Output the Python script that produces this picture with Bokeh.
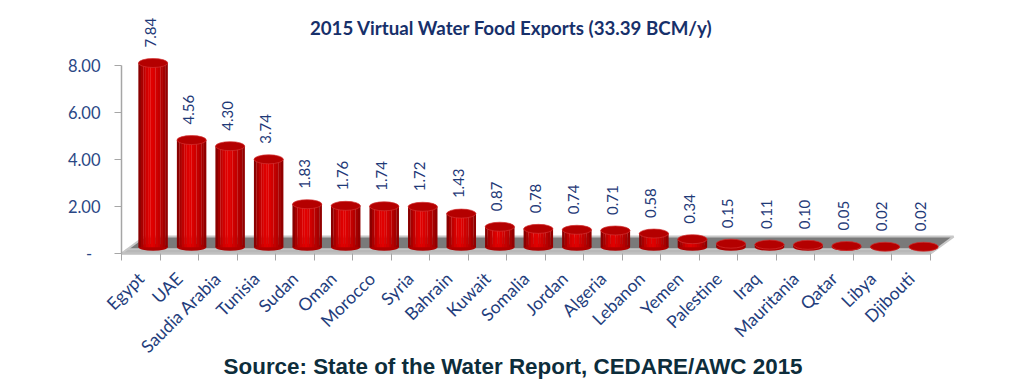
import math
from bokeh.plotting import figure
from bokeh.models import ColumnDataSource, FixedTicker, Label
from bokeh.transform import dodge
from bokeh.core.properties import value
from bokeh.embed import file_html
from bokeh.resources import INLINE

# ---------------- data ----------------
categories = ["Egypt", "UAE", "Saudia Arabia", "Tunisia", "Sudan", "Oman", "Morocco",
              "Syria", "Bahrain", "Kuwait", "Somalia", "Jordan", "Algeria", "Lebanon",
              "Yemen", "Palestine", "Iraq", "Mauritania", "Qatar", "Libya", "Djibouti"]
values = [7.84, 4.56, 4.30, 3.74, 1.83, 1.76, 1.74, 1.72, 1.43, 0.87, 0.78, 0.74,
          0.71, 0.58, 0.34, 0.15, 0.11, 0.10, 0.05, 0.02, 0.02]
y_ticks = [0, 2, 4, 6, 8]
y_tick_labels = ["-\u00a0\u00a0", "2.00", "4.00", "6.00", "8.00"]
title_text = "2015 Virtual Water Food Exports (33.39 BCM/y)"
source_text = "Source: State of the Water Report, CEDARE/AWC 2015"

# ---------------- styling ----------------
FONT = "Lato"
BLUE = "#1f3a78"
n = len(categories)
depth_x, depth_y = 0.60, 0.72      # 3D floor depth (data units)
bx, by = 0.32, 0.27                # bar offset into the floor
W = 0.76                           # cylinder width
strip_colors = ["#8a0000", "#a60000", "#bf0000", "#d20000", "#dd0000", "#e10000",
                "#da0000", "#cf0000", "#c30000", "#b50000", "#a50000", "#920000"]

xs = [i + 0.5 for i in range(n)]
src = ColumnDataSource(dict(
    x=xs,
    v=values,
    top=[v + by for v in values],
    bottom=[by] * n,
    label=["{:.2f}".format(v) for v in values],
))

# frame spans the whole canvas; 38.52 px per category, 23.5 px per unit,
# origin at (121 px, 253 px)
p = figure(width=1024, height=388, x_range=(-3.141, 23.44), y_range=(-5.745, 10.77),
           output_backend="svg", toolbar_location=None,
           min_border_left=0, min_border_right=0, min_border_top=0,
           min_border_bottom=0)
p.outline_line_color = None
p.xgrid.grid_line_color = None
p.ygrid.grid_line_color = None
p.background_fill_color = "white"

# floor
p.patch(x=[0, n, n + depth_x, depth_x], y=[0, 0, depth_y, depth_y],
        fill_color="#7a7a7a", line_color="#c8c8c8", line_width=2)
p.patch(x=[0, n, n + 0.16, 0.16], y=[0, 0, 0.19, 0.19],
        fill_color="#b8b8b8", line_color="#c8c8c8", line_width=1.5)

# cylinders
p.ellipse(x=dodge("x", bx), y="bottom", width=W, height=7, height_units="screen",
          fill_color="#b00000", line_color=None, source=src)
K = len(strip_colors)
for k, c in enumerate(strip_colors):
    off = bx - W / 2 + (k + 0.5) * W / K
    p.vbar(x=dodge("x", off), width=W / K * 1.08, top="top", bottom="bottom",
           fill_color=c, line_color=None, source=src)
p.ellipse(x=dodge("x", bx), y="top", width=W, height=9, height_units="screen",
          fill_color="#b40000", line_color="#d23030", line_width=0.7, source=src)

# value labels
p.text(x=dodge("x", bx - 0.08), y=dodge("top", 0.66), text="label", angle=math.pi / 2,
       text_align="left", text_baseline="middle",
       text_font=value(FONT), text_font_size="15px", text_color=BLUE, source=src)

# title
p.add_layout(Label(x=10.12, y=9.62, text=title_text, text_align="center",
                   text_baseline="middle", text_font=FONT, text_font_size="18.7px",
                   text_font_style="bold", text_color="#17306a"))

# y axis (pinned at x = 0)
p.yaxis.fixed_location = 0
p.yaxis.ticker = FixedTicker(ticks=y_ticks)
p.yaxis.major_label_overrides = {t: l for t, l in zip(y_ticks, y_tick_labels)}
p.yaxis.bounds = (0, 8)
p.yaxis.axis_line_color = "#a6a6a6"
p.yaxis.axis_line_width = 1.5
p.yaxis.major_tick_line_color = "#a6a6a6"
p.yaxis.major_tick_out = 7
p.yaxis.major_tick_in = 0
p.yaxis.minor_tick_line_color = None
p.yaxis.major_label_standoff = 14
p.yaxis.major_label_text_font = FONT
p.yaxis.major_label_text_font_size = "16.5px"
p.yaxis.major_label_text_color = "#2a4785"

# x axis (pinned at y = 0)
p.xaxis.fixed_location = 0
p.xaxis.ticker = FixedTicker(ticks=xs, minor_ticks=list(range(n + 1)))
p.xaxis.major_label_overrides = {x: c for x, c in zip(xs, categories)}
p.xaxis.bounds = (0, n)
p.xaxis.axis_line_color = "#c0c0c0"
p.xaxis.axis_line_width = 2
p.xaxis.major_tick_in = 0
p.xaxis.major_tick_out = 0
p.xaxis.minor_tick_in = 0
p.xaxis.minor_tick_out = 7
p.xaxis.minor_tick_line_color = "#a6a6a6"
p.xaxis.major_label_orientation = math.pi / 4
p.xaxis.major_label_standoff = 15
p.xaxis.major_label_text_font = FONT
p.xaxis.major_label_text_font_size = "17.5px"
p.xaxis.major_label_text_color = "#233d7c"

# source line
p.add_layout(Label(x=2.65, y=-4.8, text=source_text, text_align="left",
                   text_baseline="middle", text_font="Liberation Sans",
                   text_font_size="22.4px", text_font_style="bold",
                   text_color="#0d2d3b"))

open("out.html", "w").write(file_html(p, INLINE))
